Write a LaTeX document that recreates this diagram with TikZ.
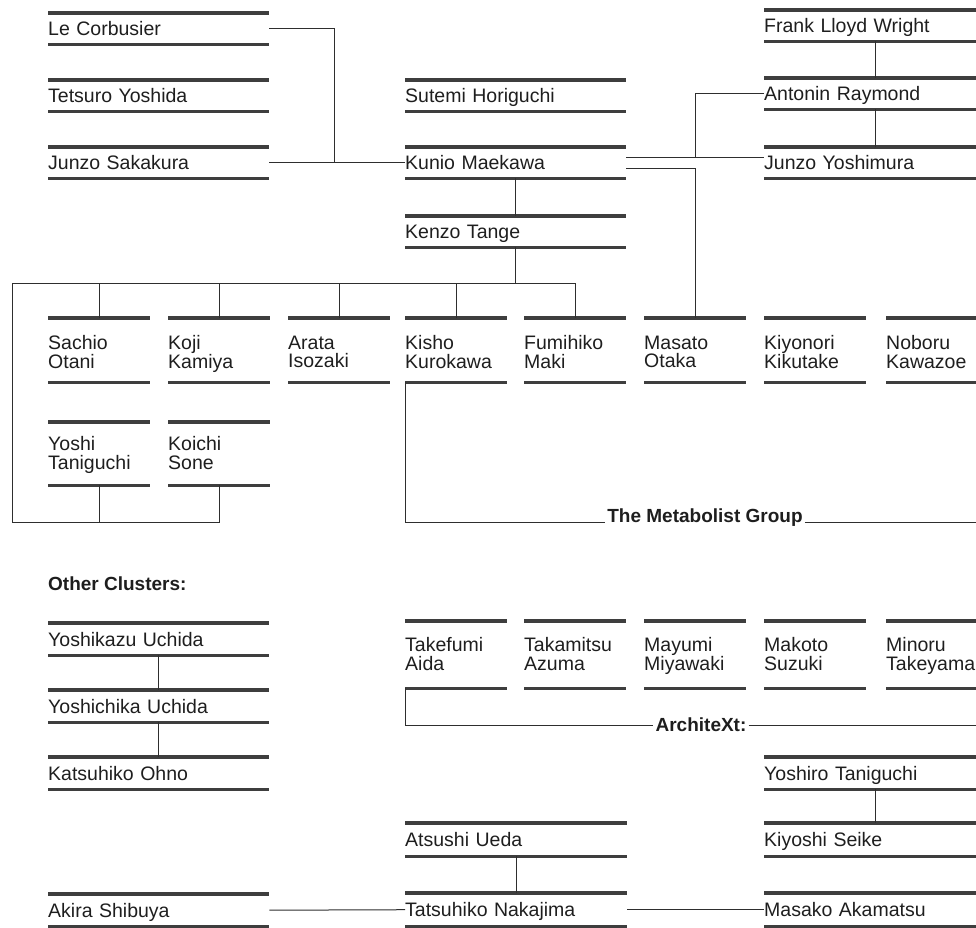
\documentclass[tikz,border=0pt]{standalone}
\usepackage{fontspec}
\setmainfont{Liberation Sans}
\usepackage{xcolor}
\usepackage{tikz}
\usetikzlibrary{positioning,calc}

\definecolor{barcol}{HTML}{3E3E3E}
\definecolor{linecol}{HTML}{2E2E2E}
\definecolor{inkcol}{HTML}{1E1E1E}
\newcommand{\namefont}{\fontsize{19.5}{18.5}\selectfont}
\newcommand{\groupfont}{\fontsize{19}{20}\selectfont\bfseries}

\tikzset{
  person/.style={anchor=north west, inner sep=0pt, align=left, text depth=0pt, text=inkcol, font=\namefont},
  wide/.style={person, text width=221pt, minimum height=31pt},
  pair/.style={person, text width=102pt, minimum height=#1, text depth=20.5pt},
  pair/.default=64pt,
  bar/.style={draw=barcol, line width=3.6pt},
  link/.style={draw=linecol, line width=1pt},
  group/.style={font=\groupfont, text=inkcol, fill=white, inner xsep=2pt, inner ysep=1pt}
}

\begin{document}
\begin{tikzpicture}[x=1pt,y=-1pt]
    \useasboundingbox (0,0) rectangle (976,927);
    \clip (0,0) rectangle (976,927);

    % Maekawa and his teachers
    \node[wide] (corb) at (48,13) {Le Corbusier};
    \node[wide] (tets) at (48,80) {Tetsuro Yoshida};
    \node[wide] (saka) at (48,147) {Junzo Sakakura};
    \node[wide] (hori) at (405,80) {Sutemi Horiguchi};
    \node[wide] (maek) at (405,147) {Kunio Maekawa};
    \node[wide] (tange) at (405,216) {Kenzo Tange};
    \node[wide, text width=222pt] (wright) at (764,10) {Frank Lloyd Wright};
    \node[wide, text width=222pt] (raym) at (764,78) {Antonin Raymond};
    \node[wide, text width=222pt] (yosm) at (764,147) {Junzo Yoshimura};

    % Tange's office and the Metabolists
    \node[pair, text depth=15pt] (otani) at (48,318) {Sachio\\Otani};
    \node[pair, text depth=15pt] (kamiya) at (168,318) {Koji\\Kamiya};
    \node[pair, text depth=15pt] (isozaki) at (288,318) {Arata\\Isozaki};
    \node[pair, text depth=15pt] (kuro) at (405,318) {Kisho\\Kurokawa};
    \node[pair, text depth=15pt] (fmaki) at (524,318) {Fumihiko\\Maki};
    \node[pair, text depth=15pt] (otaka) at (644,318) {Masato\\Otaka};
    \node[pair, text depth=15pt] (kiku) at (764,318) {Kiyonori\\Kikutake};
    \node[pair, text depth=15pt] (kawa) at (886,318) {Noboru\\Kawazoe};
    \node[pair=63pt] (ytani) at (48,422) {Yoshi\\Taniguchi};
    \node[pair=63pt] (sone) at (168,422) {Koichi\\Sone};

    % other clusters
    \node[group, fill=none, inner sep=0pt, anchor=west] (other) at (48,584) {Other Clusters:};
    \node[wide, minimum height=32pt] (kazu) at (48,623) {Yoshikazu Uchida};
    \node[wide, minimum height=32pt] (chika) at (48,690) {Yoshichika Uchida};
    \node[wide, minimum height=32pt] (ohno) at (48,757) {Katsuhiko Ohno};
    \node[wide, minimum height=32pt] (shib) at (48,894) {Akira Shibuya};
    \node[pair=67pt] (aida) at (405,621) {Takefumi\\Aida};
    \node[pair=67pt] (azuma) at (524,621) {Takamitsu\\Azuma};
    \node[pair=67pt] (miya) at (644,621) {Mayumi\\Miyawaki};
    \node[pair=67pt] (suzuki) at (764,621) {Makoto\\Suzuki};
    \node[pair=67pt] (take) at (886,621) {Minoru\\Takeyama};
    \node[wide, text width=222pt, minimum height=32pt] (ytag) at (764,757) {Yoshiro Taniguchi};
    \node[wide, text width=222pt, minimum height=33pt] (seike) at (764,823) {Kiyoshi Seike};
    \node[wide, text width=222pt, minimum height=33pt] (akam) at (764,893) {Masako Akamatsu};
    \node[wide, text width=222pt, minimum height=33pt] (ueda) at (405,823) {Atsushi Ueda};
    \node[wide, text width=222pt, minimum height=33pt] (naka) at (405,893) {Tatsuhiko Nakajima};

    % rules above and below every name
    \foreach \n in {corb,tets,saka,hori,maek,tange,wright,raym,yosm,
                    otani,kamiya,isozaki,kuro,fmaki,otaka,kiku,kawa,ytani,sone,
                    kazu,chika,ohno,shib,aida,azuma,miya,suzuki,take,ytag,seike,akam,ueda,naka}
        \draw[bar] (\n.north west) -- (\n.north east) (\n.south west) -- (\n.south east);

    % links at the top
    \draw[link] (corb.east) -| ([xshift=65pt]saka.east);
    \draw[link] (saka.east) -- (maek.west);
    \draw[link] (maek.south) -- (tange.north);
    \draw[link] (wright.south) -- (raym.north);
    \draw[link] (raym.south) -- (yosm.north);
    \draw[link] ([yshift=5.5pt]maek.east) coordinate (mup) -- (mup -| yosm.west);
    \draw[link] (raym.west) -| (mup -| otaka.north);
    \draw[link] ([yshift=-5.5pt]maek.east) -| (otaka.north);

    % Tange's tree
    \coordinate (tl) at (12,283);
    \coordinate (tb) at (12,522);
    \draw[link] (tange.south) -- (tange.south |- tl);
    \draw[link] (fmaki.north) |- (tl) -- (tb) -| (sone.south);
    \foreach \n in {otani,kamiya,isozaki,kuro}
        \draw[link] (\n.north) -- (\n.north |- tl);
    \draw[link] (ytani.south) -- (ytani.south |- tb);

    % groups
    \node[group, anchor=base] (metab) at (705,522) {The Metabolist Group};
    \coordinate (mend) at (976,522);
    \draw[link] (kuro.south west) |- (metab.base west);
    \draw[link] (metab.base east) -- (mend);

    \node[group] (atx) at (701,725) {ArchiteXt:};
    \coordinate (aend) at (976,725);
    \draw[link] (aida.south west) |- (atx.west);
    \draw[link] (atx.east) -- (aend);

    % lower chains
    \draw[link] (kazu.south) -- (chika.north);
    \draw[link] (chika.south) -- (ohno.north);
    \draw[link] (ytag.south) -- (seike.north);
    \draw[link] (ueda.south) -- (naka.north);
    \draw[link] (shib.east) -- (naka.west);
    \draw[link] (naka.east) -- (akam.west);
\end{tikzpicture}
\end{document}
